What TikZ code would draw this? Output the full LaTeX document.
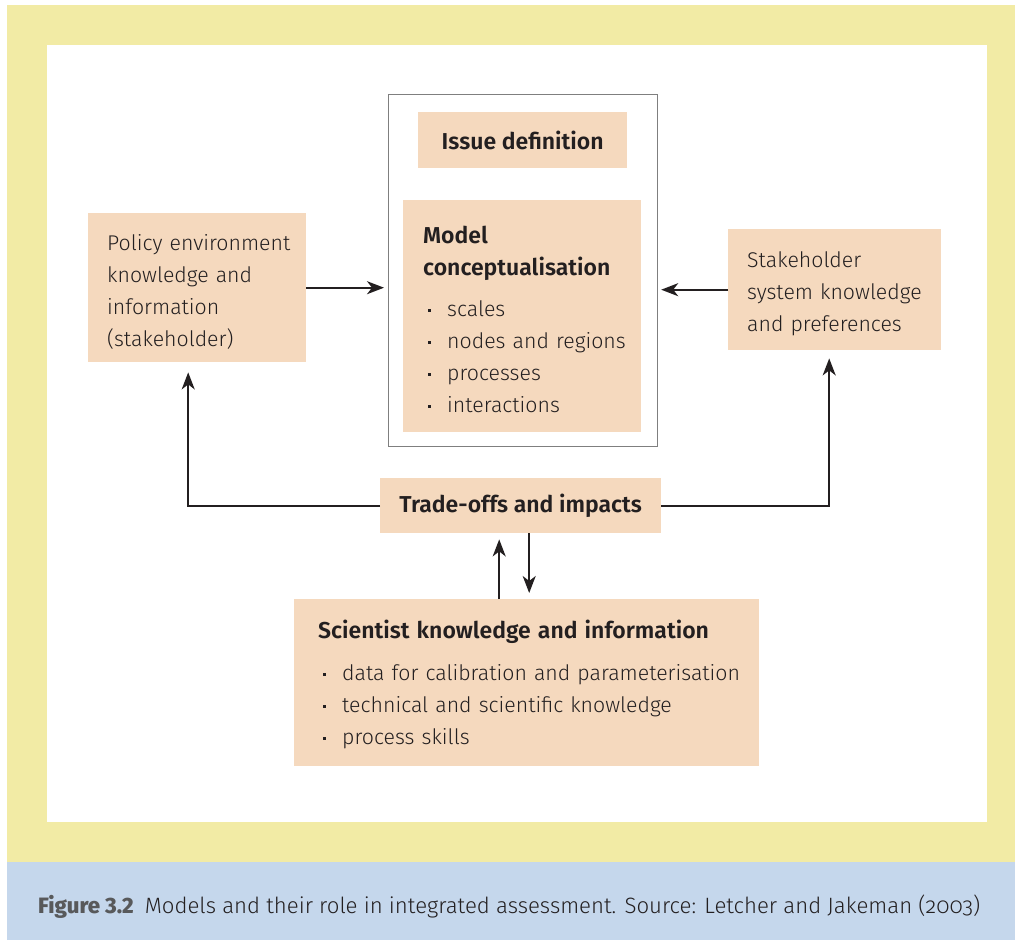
\documentclass[tikz,border=0pt]{standalone}
\usepackage{fontspec}
\setmainfont{Fira Sans}[UprightFont=* Light, BoldFont=* SemiBold]
\newfontfamily\capbold{Fira Sans ExtraBold}
\usetikzlibrary{arrows.meta}
\definecolor{yel}{HTML}{F2EBA5}
\definecolor{peach}{HTML}{F5D9BE}
\definecolor{capblue}{HTML}{C5D7EC}
\definecolor{ink}{HTML}{231F20}
\definecolor{figgray}{HTML}{58595B}
\definecolor{framegray}{HTML}{7F7F7F}
\newcommand\bul{\hspace*{5pt}\makebox[19pt][l]{\raisebox{5pt}{\rule{3pt}{3pt}}}}
\newcommand\bodyfont{\fontsize{21.3}{32}\selectfont}
\newcommand\headfont{\fontsize{23}{32}\selectfont\bfseries}
\newcommand\topstrut[1]{\rule{0pt}{#1}}
\begin{document}
\begin{tikzpicture}[x=1pt,y=-1pt,
  pbox/.style={fill=peach, draw=none, anchor=north west, text=ink, font=\bodyfont, inner ysep=0pt},
  lbox/.style={pbox, align=left},
  cbox/.style={pbox, align=center, font=\headfont, inner xsep=0pt},
  arr/.style={draw=ink, line width=1.8pt, -{Stealth[length=17pt,width=13pt,inset=5pt]}}]
\useasboundingbox (0,0) rectangle (1015,940);
\fill[yel] (7,5) rectangle (1015,862);
\fill[white] (47,45) rectangle (987,822);
\fill[capblue] (7,862) rectangle (1015,940);

% frame around issue definition and model conceptualisation
\node[draw=framegray, line width=1.2pt, fill=white, anchor=north west, minimum width=269pt, minimum height=352pt, inner sep=0pt] (frame) at (388,94) {};

\node[cbox, minimum width=209pt, minimum height=56pt] (issue) at (418,112) {Issue definition};

\node[lbox, minimum width=238pt, minimum height=232pt, inner xsep=20pt, text width=198pt] (model) at (403,200)
 {\mbox{\topstrut{24pt}\headfont Model}\\ \mbox{\headfont conceptualisation}\\[9pt]
  \mbox{\bul scales}\\ \mbox{\bul nodes and regions}\\ \mbox{\bul processes}\\ \mbox{\bul interactions}};

\node[lbox, minimum width=218pt, minimum height=149pt, inner xsep=19pt, text width=180pt] (policy) at (88,213)
 {\mbox{\topstrut{24pt}Policy environment}\\ \mbox{knowledge and}\\ \mbox{information}\\ \mbox{(stakeholder)}};

\node[lbox, minimum width=213pt, minimum height=121pt, inner xsep=19pt, text width=175pt] (stake) at (728,229)
 {\mbox{\topstrut{24pt}Stakeholder}\\ \mbox{system knowledge}\\ \mbox{and preferences}};

\node[cbox, minimum width=281pt, minimum height=55pt] (trade) at (380,478) {Trade-offs and impacts};

\node[lbox, minimum width=465pt, minimum height=167pt, inner xsep=24pt, text width=417pt] (sci) at (294,599)
 {\mbox{\topstrut{22pt}\headfont Scientist knowledge and information}\\[10pt]
  \mbox{\bul data for calibration and parameterisation}\\ \mbox{\bul technical and scientific knowledge}\\ \mbox{\bul process skills}};

% connectors
\draw[arr, shorten >=4pt] (policy.east) -- (frame.west |- policy.east);
\draw[arr, shorten >=3pt] (stake.west) -- (frame.east |- stake.west);
\draw[arr, shorten >=10pt] (trade.west) -| ([xshift=-9pt]policy.south);
\draw[arr, shorten >=8pt] (trade.east) -| ([xshift=-5.5pt]stake.south);
\draw[arr, shorten >=6pt] ([xshift=-21.5pt]sci.north -| trade.south) -- ([xshift=-21.5pt]trade.south);
\draw[arr, shorten >=6pt] ([xshift=8.5pt]trade.south) -- ([xshift=8.5pt]sci.north -| trade.south);

% caption
\node[anchor=base west, text=ink, font=\fontsize{22.2}{26}\selectfont, inner sep=0pt] (cap) at (38,913)
 {{\capbold\color{figgray}Figure 3.2}\hspace{11pt}Models and their role in integrated assessment. Source: Letcher and Jakeman ({\addfontfeature{Numbers=OldStyle}2003})};
\end{tikzpicture}
\end{document}
